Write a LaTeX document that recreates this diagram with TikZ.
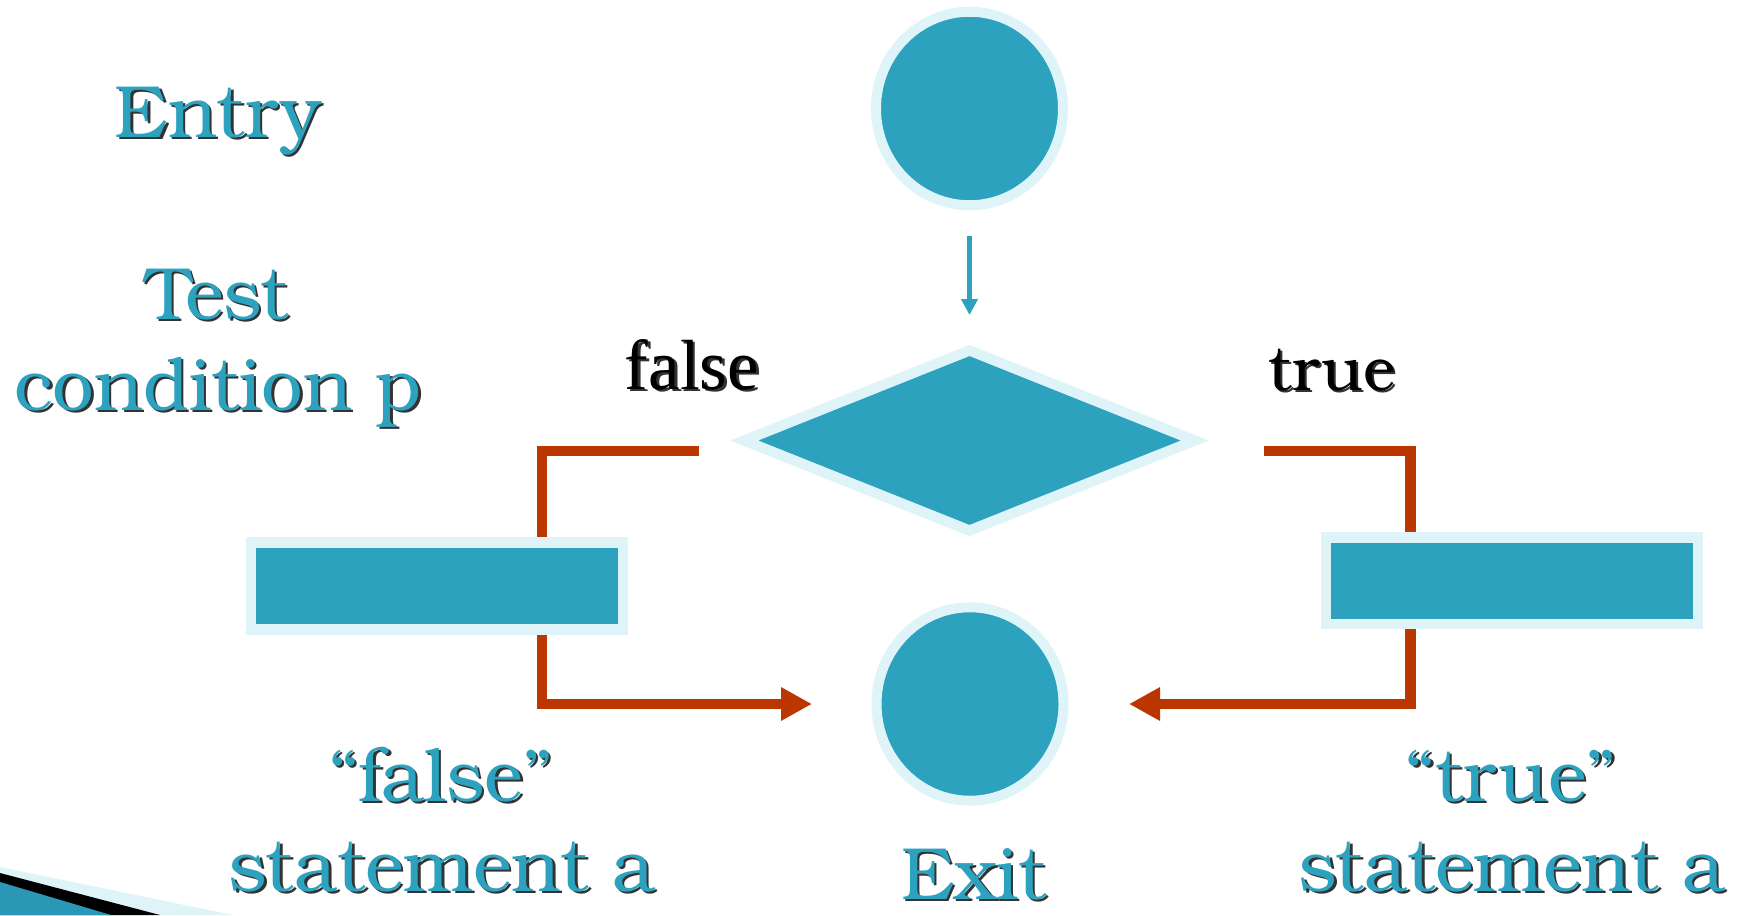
\documentclass[tikz,border=0pt]{standalone}
\usepackage{fontspec}
\setmainfont{TeX Gyre Bonum}
\newfontfamily\timesfont{Liberation Serif}
\usetikzlibrary{shapes.geometric,arrows.meta,backgrounds}
\pgfdeclarelayer{bg}
\pgfsetlayers{bg,background,main}

\definecolor{flowteal}{HTML}{2CA2BE}
\definecolor{flowpale}{HTML}{DEF4F8}
\definecolor{flowred}{HTML}{BC3600}
\definecolor{wedgeteal}{HTML}{2A97B6}

% text with a dark drop shadow behind it
\newcommand\shadowed[2]{%
  \makebox[0pt][l]{\kern2.5pt\raisebox{-2.5pt}{\textcolor{black!80}{#2}}}%
  \textcolor{#1}{#2}}

\begin{document}
\begin{tikzpicture}[x=1pt,y=-1pt,
  terminal/.style={ellipse, fill=flowteal, draw=flowpale, line width=10pt,
    minimum width=187pt, minimum height=193.5pt, inner sep=0pt, outer sep=0pt},
  decision/.style={diamond, fill=flowteal, draw=flowpale, line width=10.3pt,
    line join=miter, minimum width=450.5pt, minimum height=180pt,
    inner sep=0pt, outer sep=0pt},
  stmtbox/.style={rectangle, fill=flowteal, draw=flowpale, line width=10.5pt,
    minimum width=372pt, minimum height=86.7pt, inner sep=0pt, outer sep=0pt},
  flow/.style={draw=flowred, line width=10.5pt, line join=miter},
  flowhead/.style={-{Triangle[length=31pt,width=31.5pt]}},
  entryarrow/.style={draw=flowteal, line width=4.7pt,
    -{Triangle[length=16pt,width=16pt]}},
  bigtext/.style={anchor=base, inner sep=0pt, font=\fontsize{74}{80}\selectfont},
  branchtext/.style={anchor=base, inner sep=0pt}
]
\useasboundingbox (0,0) rectangle (1739,915);
\begin{pgfonlayer}{bg}
  \fill[white] (0,0) rectangle (1739,915);
  % corner ornament
  \fill[flowpale] (0,867) -- (233,915) -- (0,915) -- cycle;
  \fill[black] (0,873) -- (160,915) -- (0,915) -- cycle;
  \fill[wedgeteal] (0,882) -- (111,915) -- (0,915) -- cycle;
\end{pgfonlayer}

% flowchart shapes
\node[terminal] (start) at (969.5,108.5) {};
\node[decision] (test) at (969.5,440.5) {};
\node[stmtbox] (fbox) at (437.2,586) {};
\node[stmtbox] (tbox) at (1511.9,580.8) {};
\node[terminal] (exit) at (970,704) {};

% connectors
\coordinate (fout) at (699,451);
\coordinate (fjoin) at (542,451);
\coordinate (tout) at (1264,451);
\coordinate (tjoin) at (1410.5,451);
\draw[entryarrow, shorten <=30.75pt, shorten >=35.5pt] (start) -- (test);
\begin{pgfonlayer}{background}
  \draw[flow] (fout) -- (fjoin) -- (fjoin |- fbox.north);
  \draw[flow, flowhead, shorten >=64.5pt] (fjoin |- fbox.south) |- (exit.west);
  \draw[flow] (tout) -- (tjoin) -- (tjoin |- tbox.north);
  \draw[flow, flowhead, shorten >=65.5pt] (tjoin |- tbox.south) |- (exit.east);
\end{pgfonlayer}

% labels
\node[bigtext] (entrylbl) at (218,137) {\shadowed{flowteal}{Entry}};
\node[bigtext] (testlbl) at (217,319) {\shadowed{flowteal}{Test}};
\node[bigtext] (condlbl) at (218,410) {\shadowed{flowteal}{condition p}};
\node[branchtext, font=\timesfont\fontsize{71}{80}\selectfont] (falselbl)
  at (692,389) {\shadowed{black}{false}};
\node[branchtext, font=\fontsize{62}{70}\selectfont] (truelbl)
  at (1332,390) {\shadowed{black}{true}};
\node[bigtext] (fquote) at (441,801) {\shadowed{flowteal}{“false”}};
\node[bigtext] (fstmt) at (442,891) {\shadowed{flowteal}{statement a}};
\node[bigtext] (exitlbl) at (974,899) {\shadowed{flowteal}{Exit}};
\node[bigtext] (tquote) at (1511,801) {\shadowed{flowteal}{“true”}};
\node[bigtext] (tstmt) at (1512,891) {\shadowed{flowteal}{statement a}};
\end{tikzpicture}
\end{document}
